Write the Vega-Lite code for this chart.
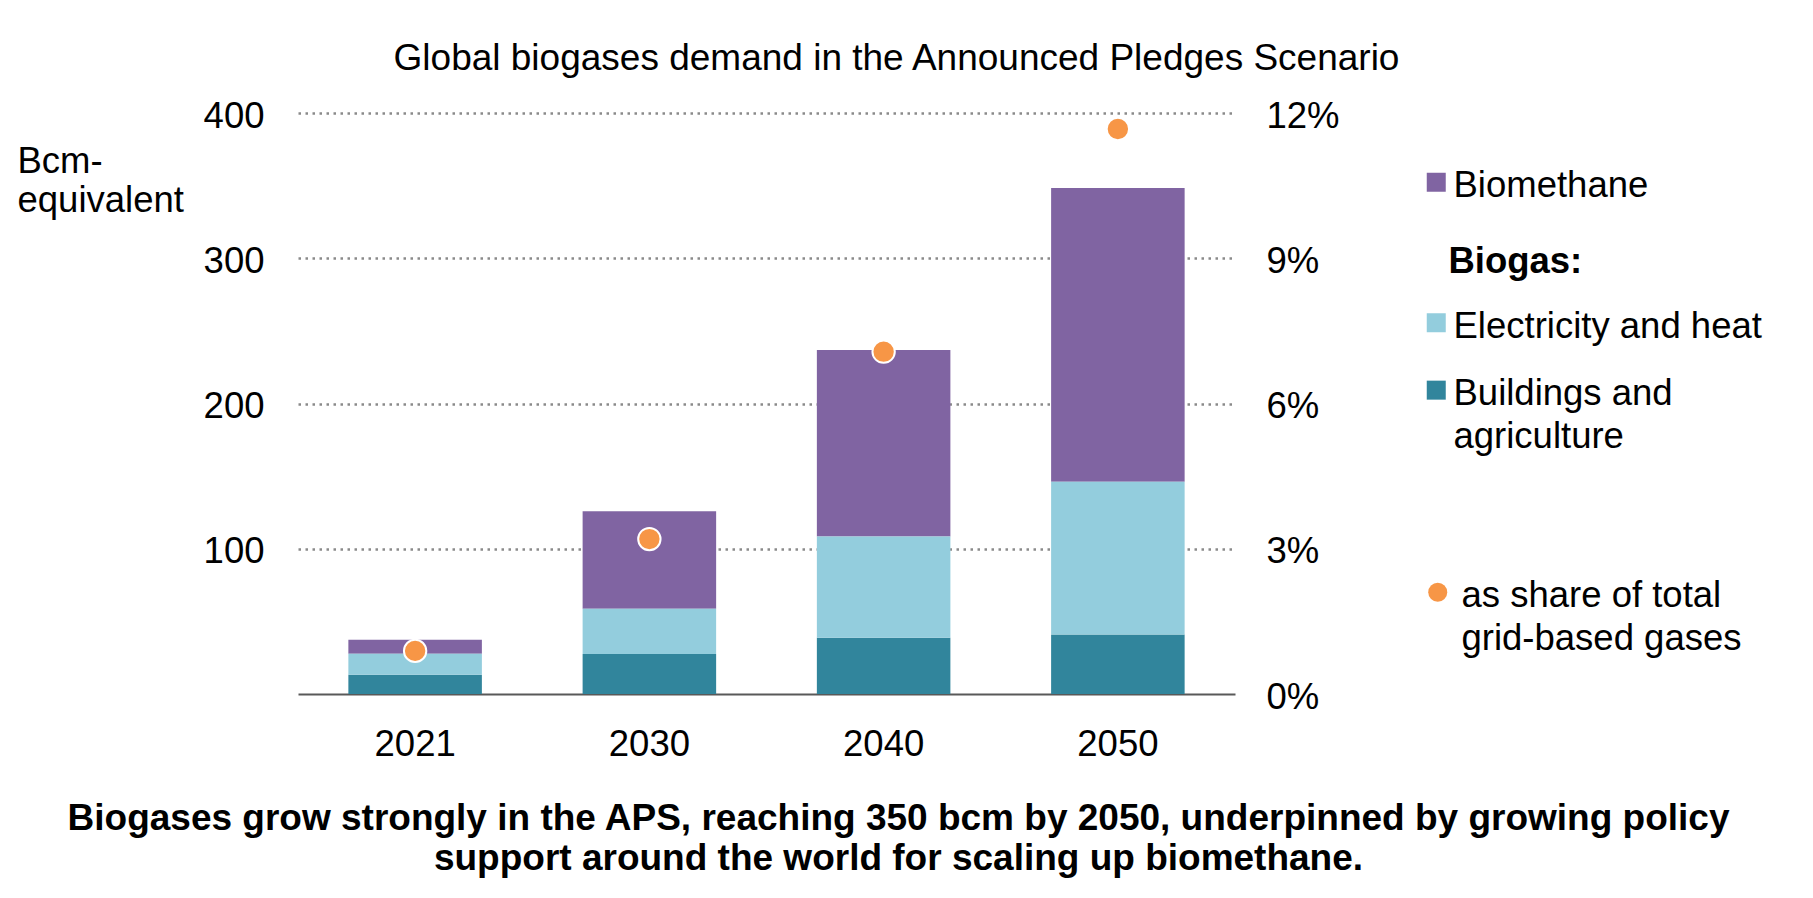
{
  "$schema": "https://vega.github.io/schema/vega-lite/v6.json",
  "width": 937,
  "height": 581,
  "autosize": "none",
  "padding": {"left": 298, "top": 113, "right": 578, "bottom": 204},
  "background": "white",
  "title": {
    "text": "Global biogases demand in the Announced Pledges Scenario",
    "font": "Liberation Sans",
    "fontSize": 37,
    "fontWeight": "normal",
    "color": "#000000",
    "anchor": "middle",
    "dx": 130,
    "dy": 29,
    "baseline": "alphabetic",
    "offset": 20
  },
  "config": {
    "view": {"stroke": null},
    "font": "Liberation Sans",
    "style": {"guide-label": {"dy": 15, "lineHeight": 43}},
    "axis": {
      "labelFont": "Liberation Sans",
      "labelFontSize": 36.5,
      "labelColor": "#000000",
      "titleFont": "Liberation Sans",
      "titleColor": "#000000",
      "ticks": false,
      "tickSize": 0
    },
    "legend": {
      "labelFont": "Liberation Sans",
      "labelFontSize": 36.5,
      "labelColor": "#000000",
      "labelBaseline": "alphabetic",
      "labelLimit": 500,
      "titleFont": "Liberation Sans",
      "titleFontSize": 36.5,
      "titleFontWeight": "bold",
      "titleColor": "#000000",
      "titleBaseline": "alphabetic",
      "padding": 0,
      "symbolStrokeWidth": 0,
      "symbolSize": 361,
      "rowPadding": 26.4
    }
  },
  "resolve": {"scale": {"y": "independent", "color": "independent"}},
  "layer": [
    {
      "data": {"name": "bars"},
      "transform": [
        {"calculate": "indexof(['Buildings and agriculture', 'Electricity and heat', 'Biomethane'], datum.category)", "as": "stackOrder"},
        {"stack": "value", "groupby": ["year"], "sort": [{"field": "stackOrder", "order": "ascending"}], "as": ["v0", "v1"]}
      ],
      "resolve": {"scale": {"color": "independent"}},
      "layer": [
        {
          "transform": [{"filter": "datum.category == 'Biomethane'"}],
          "mark": {"type": "bar"},
          "encoding": {
            "x": {
              "field": "year",
              "type": "nominal",
              "sort": null,
              "scale": {"paddingInner": 0.43, "paddingOuter": 0.215},
              "axis": {
                "labelAngle": 0,
                "labelPadding": 17,
                "domain": true,
                "domainColor": "#595959",
                "domainWidth": 2,
                "title": ["Biogases grow strongly in the APS, reaching 350 bcm by 2050, underpinned by growing policy", "support around the world for scaling up biomethane."],
                "titleFontSize": 37,
                "titleFontWeight": "bold",
                "titleAlign": "center",
                "titleBaseline": "alphabetic",
                "titleLineHeight": 40,
                "titleX": 600,
                "titleY": 135
              }
            },
            "y": {
              "field": "v0",
              "type": "quantitative",
              "scale": {"domain": [0, 400], "nice": false},
              "axis": {
                "orient": "left",
                "values": [100, 200, 300, 400],
                "domain": false,
                "labelPadding": 34,
                "labelOffset": -12,
                "grid": true,
                "gridColor": "#8a8a8a",
                "gridDash": [2.5, 4.5],
                "gridWidth": 2.5,
                "title": ["Bcm-", "equivalent"],
                "titleAngle": 0,
                "titleAlign": "left",
                "titleBaseline": "alphabetic",
                "titleFontSize": 36.5,
                "titleFontWeight": "normal",
                "titleLineHeight": 39,
                "titleX": -281,
                "titleY": 59
              }
            },
            "y2": {"field": "v1"},
            "color": {
              "field": "category",
              "type": "nominal",
              "scale": {"domain": ["Biomethane"], "range": ["#8064A2"]},
              "legend": {
                "orient": "none",
                "legendX": 1120,
                "legendY": 51,
                "title": null,
                "symbolType": "square",
                "labelOffset": -1
              }
            }
          }
        },
        {
          "transform": [{"filter": "datum.category != 'Biomethane'"}],
          "mark": {"type": "bar"},
          "encoding": {
            "x": {"field": "year", "type": "nominal", "sort": null},
            "y": {"field": "v0", "type": "quantitative"},
            "y2": {"field": "v1"},
            "color": {
              "field": "category",
              "type": "nominal",
              "scale": {"domain": ["Electricity and heat", "Buildings and agriculture"], "range": ["#93CDDD", "#31859C"]},
              "legend": {
                "orient": "none",
                "legendX": 1120,
                "legendY": 160,
                "title": "\u200b\u00a0\u00a0\u00a0Biogas:",
                "titlePadding": -5,
                "symbolType": "square",
                "labelOffset": -1,
                "labelExpr": "datum.label == 'Buildings and agriculture' ? ['Buildings and', 'agriculture'] : datum.label"
              }
            }
          }
        }
      ]
    },
    {
      "data": {"name": "share"},
      "mark": {"type": "point", "filled": true, "opacity": 1, "stroke": "white", "strokeWidth": 2},
      "encoding": {
        "x": {"field": "year", "type": "nominal", "sort": null},
        "y": {
          "field": "share",
          "type": "quantitative",
          "scale": {"domain": [0, 0.12], "nice": false},
          "axis": {
            "orient": "right",
            "values": [0, 0.03, 0.06, 0.09, 0.12],
            "format": ".0%",
            "domain": false,
            "grid": false,
            "labelAlign": "left",
            "labelPadding": 31,
            "labelOffset": -12,
            "title": null
          }
        },
        "color": {
          "field": "measure",
          "type": "nominal",
          "scale": {"domain": ["as share of total grid-based gases"], "range": ["#F79646"]},
          "legend": {
            "orient": "none",
            "legendX": 1121.5,
            "legendY": 461,
            "title": null,
            "symbolType": "circle",
            "labelOffset": 5.5,
            "labelExpr": "['as share of total', 'grid-based gases']"
          }
        },
        "size": {"value": 500}
      }
    }
  ],
  "datasets": {
    "bars": [
      {"year": "2021", "category": "Buildings and agriculture", "value": 13.3},
      {"year": "2021", "category": "Electricity and heat", "value": 14.4},
      {"year": "2021", "category": "Biomethane", "value": 9.7},
      {"year": "2030", "category": "Buildings and agriculture", "value": 27.5},
      {"year": "2030", "category": "Electricity and heat", "value": 31.2},
      {"year": "2030", "category": "Biomethane", "value": 67.2},
      {"year": "2040", "category": "Buildings and agriculture", "value": 38.7},
      {"year": "2040", "category": "Electricity and heat", "value": 69.7},
      {"year": "2040", "category": "Biomethane", "value": 128.5},
      {"year": "2050", "category": "Buildings and agriculture", "value": 41.0},
      {"year": "2050", "category": "Electricity and heat", "value": 105.1},
      {"year": "2050", "category": "Biomethane", "value": 202.2}
    ],
    "share": [
      {"year": "2021", "measure": "as share of total grid-based gases", "share": 0.0089},
      {"year": "2030", "measure": "as share of total grid-based gases", "share": 0.032},
      {"year": "2040", "measure": "as share of total grid-based gases", "share": 0.0707},
      {"year": "2050", "measure": "as share of total grid-based gases", "share": 0.1167}
    ]
  }
}
